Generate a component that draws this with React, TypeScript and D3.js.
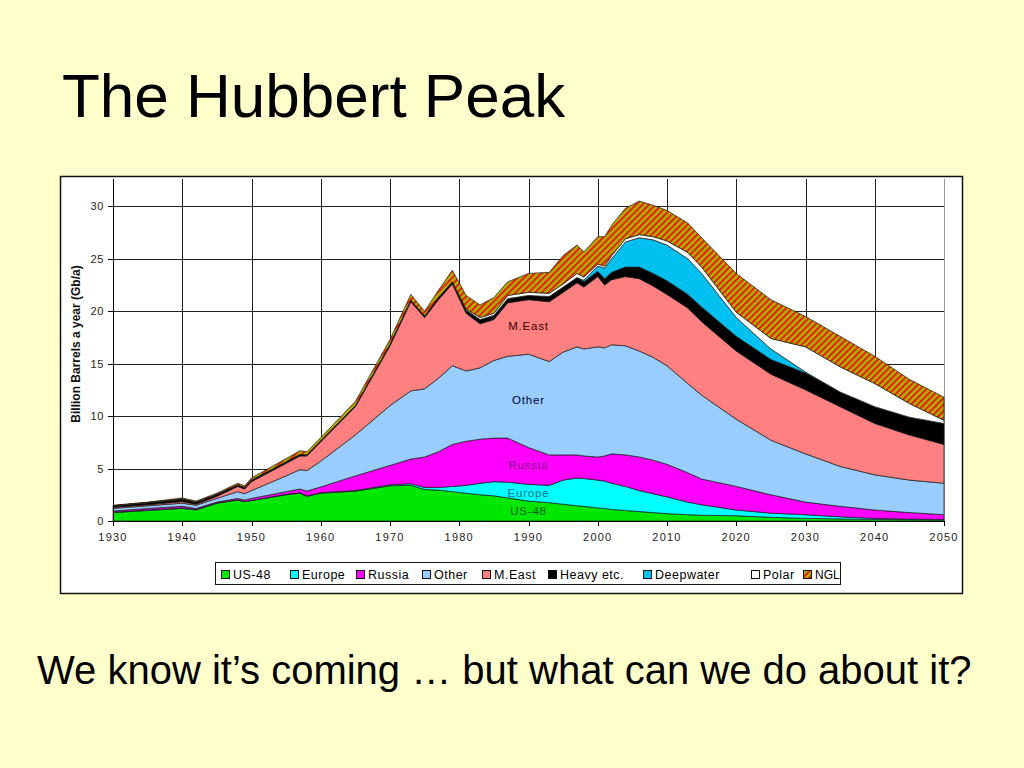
import React from 'react';
import * as d3 from 'd3';

// ---- DATA (Gb/a per layer) ----
const years = [1930, 1935, 1940, 1942, 1945, 1948, 1949, 1950, 1955, 1957, 1958, 1960, 1965, 1970, 1973, 1975, 1977, 1979, 1981, 1983, 1985, 1987, 1990, 1993, 1995, 1997, 1998, 2000, 2001, 2002, 2004, 2006, 2008, 2010, 2013, 2015, 2020, 2025, 2030, 2035, 2040, 2045, 2050];
const us48 = [0.8, 1.0, 1.2, 1.05, 1.7, 2.0, 1.85, 1.95, 2.5, 2.65, 2.35, 2.65, 2.85, 3.35, 3.4, 3.0, 2.95, 2.8, 2.65, 2.5, 2.4, 2.2, 1.9, 1.75, 1.6, 1.45, 1.4, 1.25, 1.2, 1.1, 1.0, 0.9, 0.8, 0.7, 0.6, 0.55, 0.5, 0.35, 0.25, 0.2, 0.15, 0.12, 0.1];
const europe = [0.05, 0.05, 0.05, 0.05, 0.02, 0.02, 0.02, 0.02, 0.05, 0.05, 0.05, 0.05, 0.05, 0.1, 0.15, 0.2, 0.25, 0.5, 0.75, 1.1, 1.35, 1.5, 1.6, 1.65, 2.3, 2.65, 2.65, 2.65, 2.6, 2.5, 2.3, 2.0, 1.8, 1.6, 1.2, 1.0, 0.55, 0.4, 0.35, 0.2, 0.1, 0.06, 0.05];
const russia = [0.1, 0.15, 0.15, 0.1, 0.08, 0.13, 0.13, 0.18, 0.25, 0.35, 0.45, 0.55, 1.4, 1.85, 2.35, 2.9, 3.4, 4.0, 4.2, 4.2, 4.15, 4.2, 3.5, 2.9, 2.4, 2.2, 2.15, 2.2, 2.4, 2.8, 3.0, 3.2, 3.2, 3.1, 2.8, 2.45, 2.25, 1.75, 1.2, 1.0, 0.8, 0.62, 0.45];
const other = [0.25, 0.25, 0.3, 0.3, 0.35, 0.65, 0.6, 0.75, 1.5, 1.85, 1.95, 2.45, 3.9, 5.7, 6.5, 6.5, 7.0, 7.5, 6.7, 6.8, 7.4, 7.8, 8.9, 8.9, 9.8, 10.3, 10.2, 10.5, 10.3, 10.4, 10.4, 10.1, 9.8, 9.4, 8.5, 8.0, 6.4, 5.2, 4.6, 3.8, 3.35, 3.1, 3.0];
const meast = [0.1, 0.1, 0.15, 0.1, 0.2, 0.5, 0.45, 0.85, 1.2, 1.3, 1.4, 1.85, 2.7, 5.7, 8.5, 6.8, 7.5, 7.8, 5.5, 4.2, 3.9, 5.1, 5.2, 5.7, 5.7, 6.1, 5.9, 6.7, 6.0, 6.2, 6.6, 6.9, 6.8, 6.8, 7.2, 7.0, 6.5, 6.3, 6.1, 5.7, 4.9, 4.3, 3.7];
const heavy = [0.15, 0.2, 0.25, 0.2, 0.2, 0.15, 0.15, 0.15, 0.15, 0.15, 0.1, 0.1, 0.1, 0.15, 0.15, 0.15, 0.2, 0.2, 0.3, 0.4, 0.4, 0.4, 0.4, 0.5, 0.5, 0.5, 0.5, 0.5, 0.6, 0.7, 0.9, 1.1, 1.2, 1.3, 1.3, 1.4, 1.4, 1.4, 1.6, 1.4, 1.6, 1.7, 2.0];
const deepwater = [0, 0, 0, 0, 0, 0, 0, 0, 0, 0, 0, 0, 0, 0, 0, 0, 0, 0, 0, 0, 0, 0, 0, 0, 0, 0, 0.15, 0.5, 1.0, 1.3, 2.4, 2.8, 3.2, 3.4, 3.4, 3.2, 1.8, 1.0, 0.1, 0, 0, 0, 0];
const polar = [0, 0, 0, 0, 0, 0, 0, 0, 0, 0, 0, 0, 0, 0, 0, 0, 0, 0, 0.1, 0.2, 0.2, 0.3, 0.3, 0.3, 0.3, 0.4, 0.3, 0.2, 0.2, 0.3, 0.3, 0.3, 0.3, 0.4, 0.6, 0.6, 0.5, 1.0, 2.4, 2.4, 2.2, 1.3, 0.3];
const ngl = [0.05, 0.05, 0.1, 0.1, 0.1, 0.15, 0.15, 0.2, 0.3, 0.35, 0.3, 0.3, 0.4, 0.45, 0.55, 0.45, 0.7, 1.1, 1.3, 1.2, 1.5, 1.3, 1.8, 2.0, 2.7, 2.7, 2.4, 2.6, 2.8, 2.9, 2.9, 3.2, 3.0, 2.9, 2.8, 2.8, 3.7, 3.7, 2.9, 2.9, 2.6, 2.3, 2.2];

const seriesNames = ['US-48', 'Europe', 'Russia', 'Other', 'M.East', 'Heavy etc.', 'Deepwater', 'Polar', 'NGL'];
const seriesValues = [us48, europe, russia, other, meast, heavy, deepwater, polar, ngl];
const xTicks = [1930, 1940, 1950, 1960, 1970, 1980, 1990, 2000, 2010, 2020, 2030, 2040, 2050];
const yTicks = [0, 5, 10, 15, 20, 25, 30];
const inChartLabels = ['M.East', 'Other', 'Russia', 'Europe', 'US-48'];
const inChartLabelValues = [18.2, 11.2, 5.0, 2.3, 0.6];

// ---- STYLE ----
const colors = ['#00E800', '#00FFFF', '#FF00FF', '#99CCFF', '#FF8080', '#000000', '#00C0F0', '#FFFFFF', 'url(#nglPattern)'];
const labelColors = ['#3a0000', '#000033', '#800080', '#006f8a', '#005a00'];
const legendOffsets = [221, 290, 356, 422, 482, 548, 643, 751, 803];
const FONT = '"Liberation Sans", Arial, Helvetica, sans-serif';

export default function App() {
  const x = d3.scaleLinear().domain([1930, 2050]).range([113, 944]);
  const y = d3.scaleLinear().domain([0, 32.6]).range([521, 179]);

  const table = years.map((yr, i) => {
    const row: any = { year: yr };
    seriesNames.forEach((n, k) => { row[n] = seriesValues[k][i]; });
    return row;
  });
  const stacked = d3.stack<any>().keys(seriesNames)(table);
  const area = d3.area<any>()
    .x((d: any) => x(d.data.year))
    .y0((d: any) => y(d[0]))
    .y1((d: any) => y(d[1]))
    .curve(d3.curveLinear);

  const midX = x(1990);

  return (
    <svg width={1024} height={768} style={{ position: 'absolute', left: 0, top: 0, display: 'block' }}>
      <defs>
        <pattern id="nglPattern" patternUnits="userSpaceOnUse" width={4.6} height={10} patternTransform="rotate(45)">
          <rect x={0} y={0} width={4.6} height={10} fill="#B0B000" />
          <rect x={0} y={0} width={2.1} height={10} fill="#E02400" />
        </pattern>
      </defs>
      <rect x={0} y={0} width={1024} height={768} fill="#FFFFCC" />

      <text x={62} y={117} fontFamily={FONT} fontSize={62} fill="#000">The Hubbert Peak</text>

      {/* chart box */}
      <rect x={60.5} y={176.5} width={902} height={417} fill="#FFFFFF" stroke="#111" strokeWidth={1.5} />

      {/* gridlines */}
      {yTicks.filter(t => t > 0).map(t => (
        <line key={'hy' + t} x1={113} x2={944} y1={Math.round(y(t)) + 0.5} y2={Math.round(y(t)) + 0.5} stroke="#222" strokeWidth={1} />
      ))}
      {xTicks.filter(t => t > 1930).map(t => (
        <line key={'vx' + t} x1={Math.round(x(t)) + 0.5} x2={Math.round(x(t)) + 0.5} y1={179} y2={521} stroke={t === 2050 ? '#999' : '#222'} strokeWidth={1} />
      ))}

      {/* stacked areas */}
      {stacked.map((s, k) => (
        <path key={seriesNames[k]} d={area(s as any) || ''} fill={colors[k]} stroke="#1a1a1a" strokeWidth={0.7} strokeLinejoin="round" />
      ))}

      {/* in-chart labels */}
      {inChartLabels.map((lab, i) => (
        <text key={lab} x={midX} y={y(inChartLabelValues[i])} textAnchor="middle" fontFamily={FONT} fontSize={11.5}
          letterSpacing={0.8} fill={labelColors[i]}>{lab}</text>
      ))}

      {/* axes */}
      <line x1={113.5} x2={113.5} y1={179} y2={521} stroke="#000" strokeWidth={1} />
      <line x1={113} x2={944} y1={521.5} y2={521.5} stroke="#000" strokeWidth={1} />
      {yTicks.map(t => (
        <g key={'yt' + t}>
          <line x1={108} x2={113} y1={Math.round(y(t)) + 0.5} y2={Math.round(y(t)) + 0.5} stroke="#000" />
          <text x={104} y={y(t) + 4} textAnchor="end" fontFamily={FONT} fontSize={11} letterSpacing={0.6} fill="#222">{t}</text>
        </g>
      ))}
      {xTicks.map(t => (
        <g key={'xt' + t}>
          <line x1={Math.round(x(t)) + 0.5} x2={Math.round(x(t)) + 0.5} y1={521} y2={526} stroke="#000" />
          <text x={x(t)} y={541} textAnchor="middle" fontFamily={FONT} fontSize={11} letterSpacing={1.2} fill="#222">{t}</text>
        </g>
      ))}
      <text transform="translate(80,344) rotate(-90)" textAnchor="middle" fontFamily={FONT} fontSize={12} fontWeight="bold" fill="#111">
        Billion Barrels a year (Gb/a)
      </text>

      {/* legend */}
      <rect x={215.5} y={562.5} width={625} height={22} fill="#FFFFFF" stroke="#111" strokeWidth={1} />
      {seriesNames.map((n, k) => (
        <g key={'lg' + n}>
          <rect x={legendOffsets[k] + 0.5} y={570.5} width={8} height={8} fill={colors[k]} stroke="#111" strokeWidth={1} />
          <text x={legendOffsets[k] + 12} y={579} fontFamily={FONT} fontSize={k === 8 ? 12 : 12.5}
            letterSpacing={k === 8 ? 0 : 0.5} fill="#000">{n}</text>
        </g>
      ))}

      <text x={37} y={684} fontFamily={FONT} fontSize={40} fill="#000">We know it’s coming … but what can we do about it?</text>
    </svg>
  );
}
